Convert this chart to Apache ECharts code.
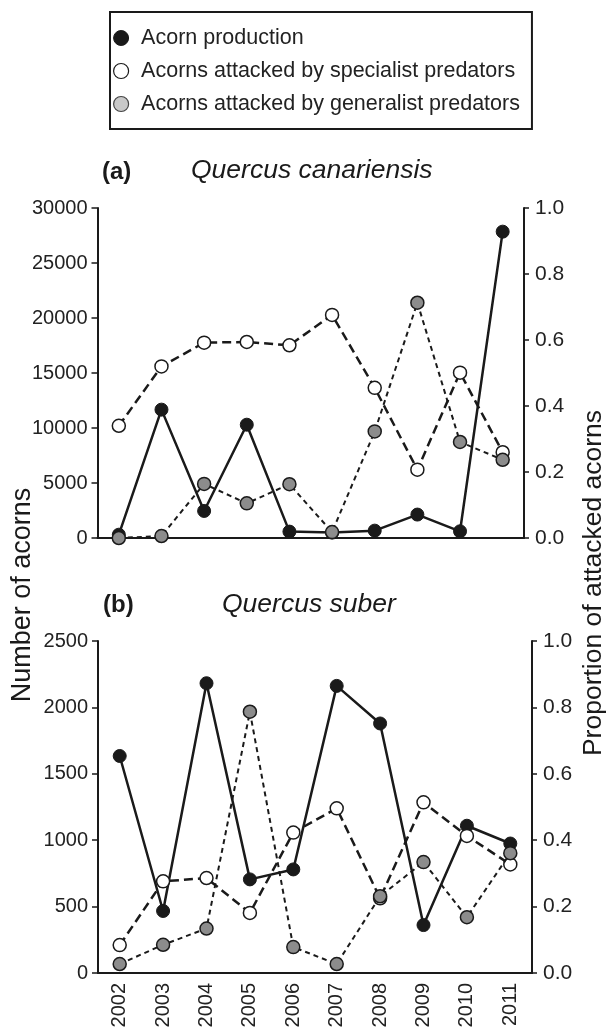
<!DOCTYPE html>
<html>
<head>
<meta charset="utf-8">
<script src="https://cdn.jsdelivr.net/npm/echarts@6/dist/echarts.min.js"></script>
<style>
  html, body { margin: 0; padding: 0; background: #fff; }
  #main { width: 609px; height: 1033px; }
</style>
</head>
<body>
<div id="main"></div>
<script>
// years on the x axis
var years = ['2002', '2003', '2004', '2005', '2006', '2007', '2008', '2009', '2010', '2011'];

// (a) Quercus canariensis
var canProduction = [300, 11670, 2460, 10300, 580, 490, 670, 2130, 610, 27850];
var canSpecialist = [0.340, 0.520, 0.592, 0.594, 0.584, 0.676, 0.455, 0.207, 0.501, 0.260];
var canGeneralist = [0.0, 0.006, 0.164, 0.105, 0.163, 0.018, 0.323, 0.713, 0.291, 0.237];

// (b) Quercus suber
var subProduction = [1634, 467, 2182, 705, 780, 2162, 1879, 361, 1109, 975];
var subSpecialist = [0.084, 0.276, 0.286, 0.181, 0.423, 0.496, 0.225, 0.514, 0.413, 0.327];
var subGeneralist = [0.027, 0.085, 0.134, 0.787, 0.078, 0.027, 0.231, 0.334, 0.168, 0.361];

var FONT = 'Liberation Sans, Arial, sans-serif';
var INK = '#1a1a1a';

var names = ['Acorn production', 'Acorns attacked by specialist predators', 'Acorns attacked by generalist predators'];

function yAxisLeft(gi, max, interval) {
  return {
    type: 'value', gridIndex: gi, position: 'left', min: 0, max: max, interval: interval,
    axisLine: { show: true, lineStyle: { color: INK, width: 2 } },
    axisTick: { show: true, length: 6, lineStyle: { color: INK, width: 1.5 } },
    axisLabel: { color: '#222', fontSize: 20, fontFamily: FONT, margin: 10,
      formatter: function (v) { return String(v); } },
    splitLine: { show: false }
  };
}
function yAxisRight(gi) {
  return {
    type: 'value', gridIndex: gi, position: 'right', min: 0, max: 1, interval: 0.2,
    axisLine: { show: true, lineStyle: { color: INK, width: 2 } },
    axisTick: { show: true, length: 5, lineStyle: { color: INK, width: 1.5 } },
    axisLabel: { color: '#222', fontSize: 21, fontFamily: FONT, margin: 11,
      formatter: function (v) { return v.toFixed(1); } },
    splitLine: { show: false }
  };
}
function xAxis(gi, showLabels) {
  return {
    type: 'category', gridIndex: gi, data: years, boundaryGap: true,
    axisLine: { show: true, lineStyle: { color: INK, width: 2 } },
    axisTick: { show: false },
    axisLabel: { show: showLabels, rotate: 90, interval: 0, color: '#222', fontSize: 20, fontFamily: FONT, margin: 10 }
  };
}

function prodSeries(gi, data) {
  return {
    name: names[0], type: 'line', xAxisIndex: gi, yAxisIndex: gi * 2, data: data,
    symbol: 'circle', symbolSize: 13, z: 3,
    lineStyle: { color: INK, width: 2.5 },
    itemStyle: { color: INK, borderColor: INK, borderWidth: 1 }
  };
}
function specSeries(gi, data) {
  return {
    name: names[1], type: 'line', xAxisIndex: gi, yAxisIndex: gi * 2 + 1, data: data,
    symbol: 'circle', symbolSize: 13, z: 4,
    lineStyle: { color: INK, width: 2.5, type: [9, 5] },
    itemStyle: { color: '#fff', borderColor: INK, borderWidth: 1.5 }
  };
}
function genSeries(gi, data) {
  return {
    name: names[2], type: 'line', xAxisIndex: gi, yAxisIndex: gi * 2 + 1, data: data,
    symbol: 'circle', symbolSize: 13, z: 5,
    lineStyle: { color: INK, width: 2, type: [5, 4] },
    itemStyle: { color: '#8c8c8c', borderColor: INK, borderWidth: 1.5 }
  };
}

var chart = echarts.init(document.getElementById('main'), null, { renderer: 'canvas' });

chart.setOption({
  animation: false,
  backgroundColor: '#fff',
  legend: {
    orient: 'vertical', left: 110, top: 12,
    padding: [15, 12, 14, 3], itemGap: 11,
    borderColor: INK, borderWidth: 2, borderRadius: 0,
    icon: 'circle', itemWidth: 30, itemHeight: 15,
    textStyle: { color: '#222', fontSize: 21.5, fontFamily: FONT },
    data: [
      { name: names[0], itemStyle: { color: INK, borderColor: INK, borderWidth: 1 } },
      { name: names[1], itemStyle: { color: '#fff', borderColor: INK, borderWidth: 1.2 } },
      { name: names[2], itemStyle: { color: '#c8c8c8', borderColor: '#444', borderWidth: 1.2 } }
    ]
  },
  grid: [
    { left: 97.5, right: 85, top: 208, height: 330 },
    { left: 98, right: 77, top: 641, height: 332 }
  ],
  xAxis: [xAxis(0, false), xAxis(1, true)],
  yAxis: [
    yAxisLeft(0, 30000, 5000), yAxisRight(0),
    yAxisLeft(1, 2500, 500), yAxisRight(1)
  ],
  graphic: [
    { type: 'text', left: 102, top: 160, style: { text: '(a)', font: 'bold 24px ' + FONT, fill: INK } },
    { type: 'text', left: 191, top: 157, style: { text: 'Quercus canariensis', font: 'italic 26.5px ' + FONT, fill: INK } },
    { type: 'text', left: 103, top: 593, style: { text: '(b)', font: 'bold 24px ' + FONT, fill: INK } },
    { type: 'text', left: 222, top: 591, style: { text: 'Quercus suber', font: 'italic 26.5px ' + FONT, fill: INK } },
    { type: 'text', x: 23, y: 595, rotation: Math.PI / 2,
      style: { text: 'Number of acorns', font: '27px ' + FONT, fill: INK, align: 'center', verticalAlign: 'middle' } },
    { type: 'text', x: 594, y: 583, rotation: Math.PI / 2,
      style: { text: 'Proportion of attacked acorns', font: '26.5px ' + FONT, fill: INK, align: 'center', verticalAlign: 'middle' } }
  ],
  series: [
    prodSeries(0, canProduction), specSeries(0, canSpecialist), genSeries(0, canGeneralist),
    prodSeries(1, subProduction), specSeries(1, subSpecialist), genSeries(1, subGeneralist)
  ]
});
</script>
</body>
</html>
